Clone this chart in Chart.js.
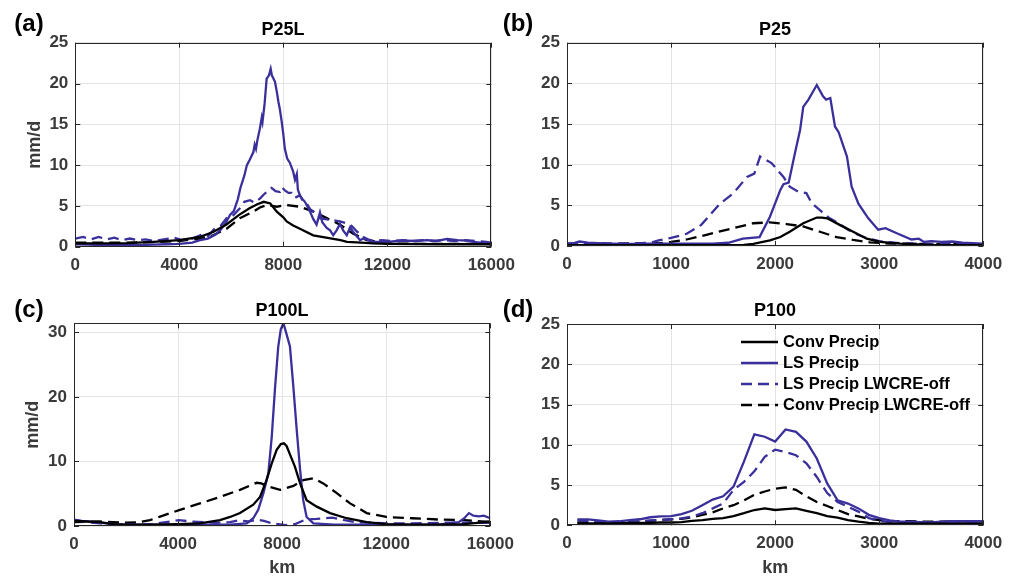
<!DOCTYPE html>
<html>
<head>
<meta charset="utf-8">
<script src="https://cdn.jsdelivr.net/npm/chart.js@4.4.0/dist/chart.umd.min.js"></script>
<style>
  html, body { margin: 0; padding: 0; background: #fff; }
  #wrap { position: relative; width: 1015px; height: 579px; overflow: hidden; font-family: "Liberation Sans", Arial, sans-serif; }
  canvas { position: absolute; }
  .lbl { position: absolute; font-weight: bold; color: #000; white-space: nowrap; line-height: 1; transform: translate(-50%, -50%); }
  .pl { font-size: 24px; }
  .tt { font-size: 18px; }
</style>
</head>
<body>
<div id="wrap">
  <canvas id="ca" width="530" height="290" style="left:0;top:0"></canvas>
  <canvas id="cb" width="510" height="290" style="left:505px;top:0"></canvas>
  <canvas id="cc" width="530" height="289" style="left:0;top:290px"></canvas>
  <canvas id="cd" width="510" height="289" style="left:505px;top:290px"></canvas>
  <div class="lbl pl" style="left:29px;top:23px">(a)</div>
  <div class="lbl tt" style="left:283px;top:29px">P25L</div>
  <div class="lbl pl" style="left:518px;top:23px">(b)</div>
  <div class="lbl tt" style="left:775px;top:29px">P25</div>
  <div class="lbl pl" style="left:29px;top:309px">(c)</div>
  <div class="lbl tt" style="left:282px;top:310px">P100L</div>
  <div class="lbl pl" style="left:518px;top:309px">(d)</div>
  <div class="lbl tt" style="left:775px;top:310px">P100</div>
</div>
<script>
// series labels
const seriesLabels = ['Conv Precip', 'LS Precip', 'LS Precip LWCRE-off', 'Conv Precip LWCRE-off'];

// ---- panel (a) P25L ----
const aConvKm = [0,1000,2000,3000,4000,4800,5300,5800,6300,6700,7000,7250,7500,7750,8000,8130,8380,8640,9150,9650,10200,10450,11000,11450,12000,14000,16000];
const aConv   = [0.4,0.4,0.45,0.6,0.8,1.2,1.8,2.7,3.9,4.7,5.2,5.5,5.3,4.3,3.6,3.1,2.6,2.2,1.4,1.1,0.8,0.6,0.5,0.4,0.35,0.3,0.3];
const aLsKm = [0,500,1000,1500,2000,2500,3000,3500,4000,4500,4800,5100,5400,5600,5800,5950,6100,6250,6350,6500,6600,6700,6850,6900,6950,7000,7100,7170,7200,7280,7360,7450,7515,7560,7620,7680,7750,7810,7870,7940,8000,8060,8150,8250,8380,8450,8520,8560,8650,8750,8830,8950,9030,9150,9280,9350,9410,9500,9670,9800,9920,10050,10180,10300,10440,10570,10690,10820,10950,11100,11200,11460,11700,12000,12400,12760,13100,13530,13900,14300,14700,15070,15300,15580,15800,16000];
const aLs   = [0.3,0.25,0.2,0.2,0.2,0.2,0.25,0.3,0.35,0.5,0.8,1.0,1.5,2.1,3.0,3.9,4.4,5.8,7.2,8.7,10.0,10.6,11.6,12.5,12.0,13.0,14.5,15.8,15.3,17.5,20.6,21.0,21.8,21.0,20.6,20.2,19.0,17.8,16.8,15.3,13.8,12.0,10.8,10.3,9.2,8.2,8.9,7.0,6.2,5.8,5.5,4.8,4.3,3.4,2.7,3.5,4.2,3.0,2.3,2.0,1.4,2.0,2.8,2.0,1.4,2.4,1.8,1.3,0.8,1.0,0.9,0.6,0.6,0.6,0.7,0.75,0.7,0.8,0.7,0.95,0.8,0.75,0.6,0.5,0.55,0.2];
const aLsOffKm = [0,300,600,900,1200,1500,1800,2100,2400,2700,3000,3400,3800,4100,4500,4870,5100,5380,5600,5820,6000,6330,6500,6720,6900,7100,7250,7360,7450,7550,7700,7870,7950,8060,8200,8320,8450,8640,8750,8900,9030,9160,9300,9410,9550,9800,10000,10180,10400,10570,10700,10820,10950,11080,11250,11460,11800,12200,12600,13000,13400,13800,14200,14600,15000,15400,15800,16000];
const aLsOff   = [1.0,1.2,0.9,1.2,0.9,1.1,0.8,1.0,0.8,0.9,0.7,0.9,1.1,0.8,1.0,1.5,1.3,2.3,2.6,3.5,3.6,4.7,5.5,5.7,5.4,5.9,6.4,6.7,7.0,7.2,6.8,6.7,7.3,6.9,6.6,6.6,6.0,6.3,5.6,5.3,4.6,4.3,4.0,3.5,3.4,3.3,3.2,3.1,2.9,2.7,2.3,1.9,1.5,1.2,0.9,0.7,0.8,0.7,0.8,0.7,0.8,0.7,0.8,0.7,0.8,0.7,0.6,0.5];
const aConvOffKm = [0,1000,2000,3000,4000,4800,5300,5820,6330,6850,7100,7360,7550,7750,8130,8640,9160,9670,10180,10690,11210,11980,13000,16000];
const aConvOff   = [0.5,0.5,0.5,0.55,0.7,1.0,1.4,2.2,3.5,4.3,4.8,5.1,5.0,4.9,5.1,4.9,4.3,3.5,2.7,1.6,0.8,0.4,0.35,0.35];

// ---- panel (b) P25 ----
const bConvKm = [0,1000,1500,1700,1790,1950,2050,2140,2270,2400,2450,2500,2620,2750,2880,3010,3200,3500,4000];
const bConv   = [0.1,0.1,0.1,0.15,0.25,0.7,1.1,1.75,2.8,3.5,3.5,3.4,2.6,1.75,0.9,0.5,0.3,0.15,0.1];
const bLsKm = [0,50,120,200,300,400,600,800,1000,1200,1400,1550,1690,1850,1950,2050,2080,2130,2190,2240,2270,2320,2400,2460,2490,2530,2575,2610,2690,2735,2800,2895,2990,3060,3180,3310,3380,3430,3500,3600,3700,3800,3900,4000];
const bLs   = [0.3,0.3,0.55,0.4,0.35,0.3,0.25,0.3,0.3,0.3,0.3,0.4,0.9,1.1,3.6,6.9,7.6,7.8,11.4,14.3,17.1,18.0,19.8,18.4,18.0,18.2,14.7,14.0,11.0,7.3,5.2,3.4,2.0,2.2,1.5,0.8,0.9,0.5,0.6,0.5,0.55,0.4,0.35,0.3];
const bLsOffKm = [0,200,400,600,800,880,1000,1150,1290,1470,1600,1730,1800,1855,1965,2080,2140,2220,2300,2350,2430,2525,2610,2700,2800,2900,3000,3200,3500,4000];
const bLsOff   = [0.3,0.35,0.3,0.3,0.4,0.7,1.0,1.5,2.6,5.2,6.5,8.5,8.9,11.0,10.2,8.5,7.3,6.7,6.5,5.3,4.4,3.4,2.8,2.0,1.35,0.9,0.6,0.35,0.25,0.2];
const bConvOffKm = [0,500,900,1000,1150,1330,1470,1600,1790,1950,2110,2270,2430,2590,2750,2910,3100,4000];
const bConvOff   = [0.3,0.3,0.35,0.5,0.8,1.35,1.8,2.2,2.8,2.9,2.7,2.4,1.75,1.1,0.75,0.45,0.3,0.2];

// ---- panel (c) P100L ----
const cConvKm = [0,500,1000,1500,2000,3000,4000,4840,5610,6000,6380,6890,7150,7400,7600,7790,7950,8070,8170,8300,8490,8690,8940,9330,9840,10480,11250,12000,13000,14000,15000,15500,16000];
const cConv   = [0.8,0.7,0.6,0.3,0.2,0.2,0.3,0.4,0.9,1.4,2.0,3.3,4.5,7.1,9.7,11.8,12.7,12.8,12.4,11.1,9.2,6.6,4.0,3.0,2.0,1.2,0.6,0.3,0.2,0.2,0.3,0.5,0.7];
const cLsKm = [0,300,800,1500,2000,4000,6000,6640,6890,7080,7280,7470,7600,7730,7850,7950,8050,8150,8300,8430,8560,8690,8810,8940,9200,10000,12000,14000,14790,15000,15180,15350,15560,15750,16000];
const cLs   = [1.0,0.8,0.6,0.3,0.2,0.2,0.2,0.4,1.2,2.5,5.1,8.2,13.8,21.6,27.8,30.5,31.4,30.0,27.8,21.6,14.9,8.7,4.0,1.4,0.4,0.2,0.2,0.2,0.6,1.2,2.0,1.6,1.5,1.6,1.2];
const cLsOffKm = [0,500,1000,2000,3000,4030,4500,5440,6000,6330,6700,7040,7300,7620,8130,8500,8900,9330,9920,10400,10820,12100,13000,14030,15300,16000];
const cLsOff   = [0.9,0.6,0.4,0.2,0.3,0.9,0.7,0.5,0.6,0.9,0.7,1.0,0.8,0.4,0.15,0.3,1.0,1.1,1.3,0.9,0.6,0.4,0.4,0.5,0.5,0.5];
const cConvOffKm = [0,1000,1500,2000,2500,2920,3310,4070,4840,5610,6380,7020,7200,7400,7920,8430,8810,9200,9580,10100,10610,11250,11760,12000,13000,14030,15000,16000];
const cConvOff   = [0.6,0.7,0.6,0.5,0.6,0.9,1.45,2.5,3.5,4.5,5.6,6.7,6.6,6.2,5.6,6.2,7.1,7.4,6.6,5.1,3.5,2.0,1.6,1.4,1.2,1.0,0.9,0.6];

// ---- panel (d) P100 ----
const dKm = [100,200,300,400,500,600,700,800,900,1000,1100,1200,1300,1400,1500,1600,1700,1800,1900,2000,
             2100,2200,2300,2400,2500,2600,2700,2800,2900,3000,3100,3200,3300,3400,3500,3600,3700,3800,3900,4000];
const dConv    = [0.25,0.25,0.25,0.25,0.25,0.3,0.3,0.3,0.35,0.35,0.4,0.55,0.65,0.8,0.9,1.15,1.5,1.9,2.1,1.9,
                  2.0,2.1,1.8,1.5,1.15,0.95,0.65,0.45,0.3,0.2,0.2,0.2,0.2,0.2,0.2,0.2,0.2,0.2,0.2,0.2];
const dLs      = [0.74,0.74,0.6,0.45,0.5,0.65,0.75,1.0,1.1,1.15,1.4,1.8,2.5,3.2,3.6,4.8,7.9,11.3,11.0,10.4,
                  11.9,11.6,10.4,8.3,5.2,3.1,2.7,2.1,1.3,0.9,0.6,0.45,0.45,0.4,0.35,0.45,0.5,0.5,0.5,0.5];
const dLsOff   = [0.6,0.55,0.45,0.35,0.35,0.4,0.5,0.6,0.65,0.75,0.85,1.1,1.5,2.1,2.7,4.4,5.4,6.7,8.5,9.4,
                  9.1,8.7,7.7,6.0,4.0,2.9,2.3,1.7,0.9,0.6,0.4,0.3,0.3,0.25,0.2,0.2,0.25,0.25,0.3,0.3];
const dConvOff = [0.35,0.35,0.35,0.35,0.35,0.4,0.45,0.55,0.65,0.75,0.8,1.0,1.3,1.6,2.1,2.5,3.1,3.8,4.2,4.55,
                  4.7,4.4,3.6,2.9,2.4,1.9,1.4,1.1,0.8,0.65,0.5,0.5,0.5,0.45,0.45,0.45,0.5,0.5,0.5,0.5];

const BLUE = '#3a309c';
const BLACK = '#000000';
const DASH = [11, 6];
const FONT = '"Liberation Sans", Arial, sans-serif';

function line(label, km, vals, color, dashed) {
  return {
    label: label,
    data: km.map((x, i) => ({ x: x, y: vals[i] })),
    borderColor: color,
    borderWidth: 2.3,
    borderDash: dashed ? DASH : [],
    pointRadius: 0,
    fill: false,
    tension: 0
  };
}

// MATLAB-like box with inward ticks
const framePlugin = {
  id: 'frame',
  afterDatasetsDraw(chart) {
    const { ctx, chartArea: a, scales: { x, y } } = chart;
    ctx.save();
    ctx.strokeStyle = '#262626';
    ctx.lineWidth = 1;
    ctx.strokeRect(Math.round(a.left) + 0.5, Math.round(a.top) + 0.5,
                   Math.round(a.right - a.left) - 1, Math.round(a.bottom - a.top) - 1);
    const t = 5;
    ctx.beginPath();
    x.ticks.forEach(tk => {
      const px = Math.round(x.getPixelForValue(tk.value)) + 0.5;
      ctx.moveTo(px, a.bottom); ctx.lineTo(px, a.bottom - t);
      ctx.moveTo(px, a.top); ctx.lineTo(px, a.top + t);
    });
    y.ticks.forEach(tk => {
      const py = Math.round(y.getPixelForValue(tk.value)) + 0.5;
      ctx.moveTo(a.left, py); ctx.lineTo(a.left + t, py);
      ctx.moveTo(a.right, py); ctx.lineTo(a.right - t, py);
    });
    ctx.stroke();
    ctx.restore();
  }
};

// legend drawn inside the plot area (panel d only)
const boxLegend = {
  id: 'boxLegend',
  afterDraw(chart, args, opts) {
    if (!opts.show) return;
    const { ctx, chartArea: a } = chart;
    ctx.save();
    ctx.font = 'bold 16.5px ' + FONT;
    ctx.textBaseline = 'middle';
    ctx.textAlign = 'left';
    chart.data.datasets.forEach((ds, i) => {
      const yy = a.top + 18 + i * 21;
      const x0 = a.left + 174;
      ctx.strokeStyle = ds.borderColor;
      ctx.lineWidth = 2.3;
      ctx.setLineDash(ds.borderDash);
      ctx.beginPath();
      ctx.moveTo(x0, yy);
      ctx.lineTo(x0 + 37, yy);
      ctx.stroke();
      ctx.setLineDash([]);
      ctx.fillStyle = '#000';
      ctx.fillText(ds.label, x0 + 42, yy);
    });
    ctx.restore();
  }
};

function panel(id, cfg) {
  const tickFont = { family: FONT, size: 17, weight: 'bold' };
  const titleFont = { family: FONT, size: 18, weight: 'bold' };
  return new Chart(document.getElementById(id), {
    type: 'line',
    data: { datasets: cfg.datasets },
    options: {
      responsive: false,
      animation: false,
      events: [],
      layout: { padding: cfg.pad },
      plugins: {
        legend: { display: false },
        tooltip: { enabled: false },
        boxLegend: { show: !!cfg.legend }
      },
      scales: {
        x: {
          type: 'linear',
          min: 0,
          max: cfg.xMax,
          border: { display: false },
          grid: { color: '#e4e4e4', drawTicks: false },
          ticks: { stepSize: cfg.xStep, padding: 8, color: '#3a3a3a', font: tickFont, maxRotation: 0,
                   includeBounds: false, callback: v => String(v) },
          title: { display: !!cfg.xTitle, text: 'km', color: '#3a3a3a', font: titleFont, padding: { top: 0, bottom: 0 } },
          afterFit: s => { s.height = cfg.xH; }
        },
        y: {
          type: 'linear',
          min: 0,
          max: cfg.yMax,
          border: { display: false },
          grid: { color: '#e4e4e4', drawTicks: false },
          ticks: { stepSize: cfg.yStep, padding: 7, color: '#3a3a3a', font: tickFont, includeBounds: false,
                   callback: v => String(v) },
          title: { display: !!cfg.yTitle, text: 'mm/d', color: '#3a3a3a', font: titleFont,
                   padding: { top: cfg.yTitlePad || 0, bottom: 0 } },
          afterFit: s => { s.width = cfg.yW; }
        }
      }
    },
    plugins: [framePlugin, boxLegend]
  });
}

function sets(conv, convKm, ls, lsKm, lsOff, lsOffKm, convOff, convOffKm) {
  return [
    line(seriesLabels[0], convKm, conv, BLACK, false),
    line(seriesLabels[1], lsKm, ls, BLUE, false),
    line(seriesLabels[2], lsOffKm, lsOff, BLUE, true),
    line(seriesLabels[3], convOffKm, convOff, BLACK, true)
  ];
}

panel('ca', {
  datasets: sets(aConv, aConvKm, aLs, aLsKm, aLsOff, aLsOffKm, aConvOff, aConvOffKm),
  pad: { top: 42.7, right: 38.7, left: 0, bottom: 0 },
  xMax: 16000, xStep: 4000, yMax: 25, yStep: 5,
  yW: 75.3, xH: 43.3, yTitle: true, yTitlePad: 24
});
panel('cb', {
  datasets: sets(bConv, bConvKm, bLs, bLsKm, bLsOff, bLsOffKm, bConvOff, bConvOffKm),
  pad: { top: 42.7, right: 31.7, left: 0, bottom: 0 },
  xMax: 4000, xStep: 1000, yMax: 25, yStep: 5,
  yW: 62, xH: 44
});
panel('cc', {
  datasets: sets(cConv, cConvKm, cLs, cLsKm, cLsOff, cLsOffKm, cConvOff, cConvOffKm),
  pad: { top: 33.3, right: 39.7, left: 0, bottom: 0 },
  xMax: 16000, xStep: 4000, yMax: 31.4, yStep: 10,
  yW: 74, xH: 53, yTitle: true, yTitlePad: 22, xTitle: true
});
panel('cd', {
  datasets: sets(dConv, dKm, dLs, dKm, dLsOff, dKm, dConvOff, dKm),
  pad: { top: 34, right: 31.7, left: 0, bottom: 0 },
  xMax: 4000, xStep: 1000, yMax: 25, yStep: 5,
  yW: 62, xH: 53.7, xTitle: true, legend: true
});
</script>
</body>
</html>
